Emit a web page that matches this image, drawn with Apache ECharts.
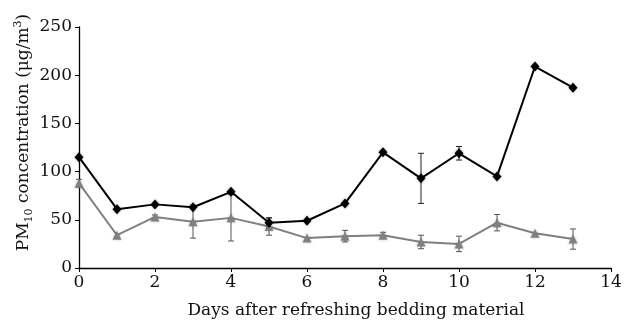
<!DOCTYPE html>
<html>
<head>
<meta charset="utf-8">
<script src="https://cdn.jsdelivr.net/npm/echarts@6/dist/echarts.min.js"></script>
<style>html,body{margin:0;padding:0;background:#fff}#c{width:629px;height:323px}</style>
</head>
<body>
<div id="c"></div>
<script>
const days = [0,1,2,3,4,5,6,7,8,9,10,11,12,13];
const pmBlack = [115,61,66,63,79,47,49,67,120,93,119,95,209,187];
const pmBlackErr = [0,0,0,0,0,5,0,0,0,26,7,0,0,0];
const pmGray = [88,34,53,48,52,43,31,33,34,27,25,47,36,30];
const pmGrayErr = [4,0,2,17,24,9,0,6,3,7,8,8.5,0,10.5];
const xTicks = {min:0, max:14, interval:2};
const yTicks = {min:0, max:250, interval:50};

const FONT = 'DejaVu Serif';
function errData(vals, errs){
  const out = [];
  vals.forEach((v,i)=>{ if(errs[i]>0) out.push([days[i], v-errs[i], v+errs[i]]); });
  return out;
}
function errSeries(vals, errs, color){
  return {
    type:'custom', z:1, silent:true,
    data: errData(vals, errs),
    renderItem: function(params, api){
      const x = api.value(0);
      const lo = api.coord([x, api.value(1)]);
      const hi = api.coord([x, api.value(2)]);
      const w = 3;
      const st = {stroke: color, lineWidth: 1};
      return {type:'group', children:[
        {type:'line', shape:{x1:lo[0],y1:lo[1],x2:hi[0],y2:hi[1]}, style:st},
        {type:'line', shape:{x1:lo[0]-w,y1:lo[1],x2:lo[0]+w,y2:lo[1]}, style:st},
        {type:'line', shape:{x1:hi[0]-w,y1:hi[1],x2:hi[0]+w,y2:hi[1]}, style:st}
      ]};
    }
  };
}
const chart = echarts.init(document.getElementById('c'));
chart.setOption({
  animation:false,
  backgroundColor:'#fff',
  grid:{left:79, right:18, top:27, bottom:55, containLabel:false, outerBoundsMode:'none'},
  xAxis:{
    type:'value', min:xTicks.min, max:xTicks.max, interval:xTicks.interval,
    name:'Days after refreshing bedding material', nameLocation:'middle', nameGap:34,
    nameMoveOverlap:false,
    nameTextStyle:{fontFamily:FONT, fontSize:17, color:'#111', padding:[0,0,0,22]},
    axisLine:{lineStyle:{color:'#000', width:1.3}},
    axisTick:{show:true, length:4, lineStyle:{color:'#000'}},
    axisLabel:{fontFamily:FONT, fontSize:17, color:'#111', margin:6},
    splitLine:{show:false}
  },
  yAxis:{
    type:'value', min:yTicks.min, max:yTicks.max, interval:yTicks.interval,
    name:'{a|PM}{s|10}{a| concentration (μg/m}{p|3}{a|)}', nameLocation:'middle', nameGap:44, nameRotate:90,
    nameMoveOverlap:false,
    nameTextStyle:{
      padding:[0,0,0,30],
      rich:{
        a:{fontFamily:FONT, fontSize:17, color:'#111', lineHeight:22},
        s:{fontFamily:FONT, fontSize:11, color:'#111', lineHeight:22, verticalAlign:'bottom', padding:[9,0,0,0]},
        p:{fontFamily:FONT, fontSize:11, color:'#111', lineHeight:22, verticalAlign:'top', padding:[0,0,8,0]}
      }
    },
    axisLine:{show:true, lineStyle:{color:'#000', width:1.3}},
    axisTick:{show:true, length:4, lineStyle:{color:'#000'}},
    axisLabel:{fontFamily:FONT, fontSize:17, color:'#111', margin:7},
    splitLine:{show:false}
  },
  series:[
    errSeries(pmGray, pmGrayErr, '#555'),
    errSeries(pmBlack, pmBlackErr, '#222'),
    {
      type:'line', z:3, data: days.map((d,i)=>[d,pmGray[i]]),
      symbol:'triangle', symbolSize:9,
      lineStyle:{color:'#808080', width:2},
      itemStyle:{color:'#808080', shadowBlur:3, shadowColor:'rgba(0,0,0,0.25)'}
    },
    {
      type:'line', z:4, data: days.map((d,i)=>[d,pmBlack[i]]),
      symbol:'diamond', symbolSize:[9,10],
      lineStyle:{color:'#000', width:2},
      itemStyle:{color:'#000', shadowBlur:3, shadowColor:'rgba(0,0,0,0.3)'}
    }
  ]
});
</script>
</body>
</html>
